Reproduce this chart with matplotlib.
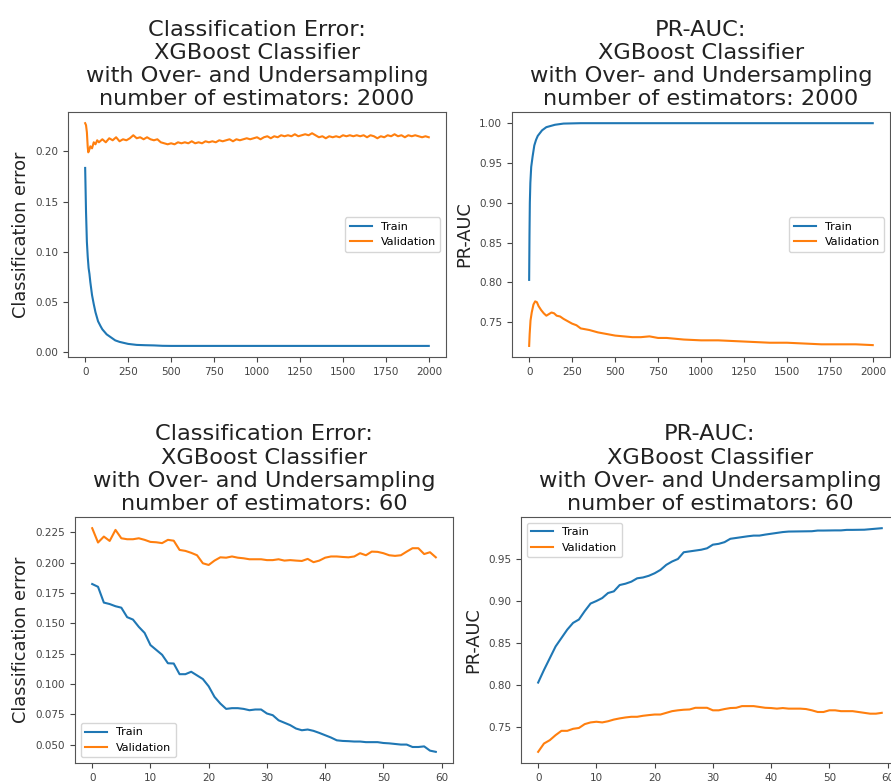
import numpy as np
import matplotlib.pyplot as plt

# --- 2000 estimators: error curves (iteration, value) ---
err2000_train_it = [0, 5, 10, 15, 20, 25, 30, 40, 50, 60, 75, 90, 100, 125, 150, 175,
                    200, 250, 300, 350, 400, 450, 500, 1000, 1500, 1999]
err2000_train = [0.1835, 0.140, 0.110, 0.095, 0.084, 0.078, 0.070, 0.057, 0.048, 0.040,
                 0.031, 0.026, 0.023, 0.018, 0.015, 0.012, 0.0105, 0.0085, 0.0075, 0.0072,
                 0.0070, 0.0066, 0.0065, 0.0065, 0.0065, 0.0065]

err2000_val_it = [0, 5, 10, 15, 18, 25, 30, 40, 50, 60, 70, 80] + list(range(100, 2000, 20)) + [1999]
err2000_val = [0.228, 0.226, 0.219, 0.204, 0.199, 0.202, 0.205, 0.203, 0.209, 0.207, 0.211, 0.209,
               0.212, 0.209, 0.213, 0.211, 0.214, 0.210, 0.212, 0.211, 0.213, 0.216,
               0.213, 0.214, 0.212, 0.214, 0.212, 0.211, 0.212, 0.209, 0.208, 0.207,
               0.208, 0.207, 0.209, 0.208, 0.209, 0.208, 0.210, 0.208, 0.209, 0.208,
               0.210, 0.209, 0.210, 0.209, 0.211, 0.210, 0.211, 0.212, 0.210, 0.212,
               0.211, 0.212, 0.213, 0.212, 0.213, 0.214, 0.212, 0.214, 0.215, 0.213,
               0.215, 0.214, 0.216, 0.215, 0.216, 0.215, 0.217, 0.215, 0.216, 0.217,
               0.216, 0.218, 0.216, 0.214, 0.215, 0.213, 0.215, 0.214, 0.215, 0.214,
               0.216, 0.215, 0.216, 0.215, 0.216, 0.215, 0.216, 0.214, 0.216, 0.215,
               0.213, 0.215, 0.214, 0.216, 0.215, 0.217, 0.215, 0.216, 0.214, 0.216,
               0.215, 0.216, 0.215, 0.214, 0.215, 0.214]

# --- 2000 estimators: PR-AUC curves ---
auc2000_train_it = [0, 2, 4, 7, 12, 20, 30, 40, 50, 75, 100, 150, 200, 300, 1000, 1999]
auc2000_train = [0.803, 0.860, 0.900, 0.925, 0.945, 0.958, 0.972, 0.979, 0.984, 0.991,
                 0.995, 0.998, 0.9995, 1.0, 1.0, 1.0]

auc2000_val_it = [0, 3, 8, 15, 25, 35, 45, 55, 70, 85, 100, 115, 130, 145, 160, 180, 200,
                  225, 250, 275, 300, 325, 350, 400, 450, 500, 550, 600, 650, 700, 750,
                  800, 850, 900, 1000, 1100, 1200, 1300, 1400, 1500, 1600, 1700, 1800,
                  1900, 1999]
auc2000_val = [0.720, 0.735, 0.752, 0.762, 0.772, 0.776, 0.775, 0.770, 0.765, 0.761, 0.758,
               0.760, 0.762, 0.761, 0.758, 0.757, 0.754, 0.751, 0.748, 0.746, 0.742, 0.741,
               0.740, 0.737, 0.735, 0.733, 0.732, 0.731, 0.731, 0.732, 0.730, 0.730, 0.729,
               0.728, 0.727, 0.727, 0.726, 0.725, 0.724, 0.724, 0.723, 0.722, 0.722, 0.722,
               0.721]

# --- 60 estimators ---
err60_train = [0.1823, 0.180, 0.167, 0.1658, 0.164, 0.1628, 0.155, 0.153, 0.147, 0.142,
               0.132, 0.128, 0.124, 0.117, 0.1168, 0.108, 0.108, 0.110, 0.107, 0.104,
               0.098, 0.0893, 0.0838, 0.0794, 0.080, 0.080, 0.0794, 0.0783, 0.0789, 0.0789,
               0.0756, 0.0742, 0.070, 0.068, 0.066, 0.0632, 0.0618, 0.0624, 0.0613, 0.0596,
               0.0577, 0.0558, 0.0535, 0.053, 0.0528, 0.0525, 0.0525, 0.052, 0.052, 0.052,
               0.0513, 0.051, 0.0505, 0.050, 0.050, 0.048, 0.048, 0.0485, 0.045, 0.044]
err60_val = [0.2283, 0.2165, 0.2214, 0.2178, 0.2269, 0.220, 0.2192, 0.2192, 0.220, 0.2187,
             0.217, 0.2167, 0.216, 0.2187, 0.218, 0.2104, 0.2096, 0.208, 0.206, 0.1994,
             0.198, 0.2016, 0.2043, 0.204, 0.205, 0.204, 0.2035, 0.2027, 0.2027, 0.2027,
             0.202, 0.202, 0.2027, 0.2016, 0.202, 0.2016, 0.2013, 0.203, 0.2003, 0.2016,
             0.204, 0.205, 0.205, 0.2046, 0.2043, 0.205, 0.2077, 0.206, 0.209, 0.2088,
             0.2077, 0.206, 0.2055, 0.206, 0.209, 0.2118, 0.2118, 0.207, 0.2085, 0.2043]

auc60_train = [0.803, 0.818, 0.832, 0.846, 0.856, 0.866, 0.874, 0.878, 0.888, 0.897,
               0.900, 0.9035, 0.9095, 0.9115, 0.919, 0.9206, 0.923, 0.927, 0.928, 0.930,
               0.933, 0.937, 0.943, 0.947, 0.950, 0.958, 0.959, 0.960, 0.961, 0.9627,
               0.967, 0.968, 0.970, 0.974, 0.975, 0.976, 0.977, 0.9778, 0.9778, 0.979,
               0.980, 0.981, 0.982, 0.9826, 0.9827, 0.9828, 0.9829, 0.983, 0.9838, 0.9838,
               0.9839, 0.984, 0.984, 0.9846, 0.9846, 0.9847, 0.9848, 0.9854, 0.986, 0.9866]
auc60_val = [0.7206, 0.7305, 0.7345, 0.7405, 0.7456, 0.7456, 0.748, 0.749, 0.7536, 0.7556,
             0.7564, 0.7556, 0.757, 0.759, 0.7604, 0.7615, 0.7623, 0.7623, 0.7635, 0.7643,
             0.765, 0.765, 0.767, 0.769, 0.770, 0.7707, 0.771, 0.773, 0.773, 0.773,
             0.770, 0.770, 0.7715, 0.7727, 0.773, 0.775, 0.775, 0.775, 0.774, 0.773,
             0.7727, 0.772, 0.7727, 0.772, 0.772, 0.772, 0.7715, 0.770, 0.768, 0.768,
             0.770, 0.770, 0.769, 0.769, 0.769, 0.768, 0.767, 0.766, 0.766, 0.767]

title_err = "Classification Error:\nXGBoost Classifier\nwith Over- and Undersampling\nnumber of estimators: {}"
title_auc = "PR-AUC:\nXGBoost Classifier\nwith Over- and Undersampling\nnumber of estimators: {}"

fig = plt.figure(figsize=(8.91, 7.83), dpi=100)
ax1 = fig.add_axes([0.0763, 0.544, 0.4242, 0.3129])
ax2 = fig.add_axes([0.5746, 0.544, 0.4242, 0.3129])
ax3 = fig.add_axes([0.0842, 0.0255, 0.4242, 0.3142])
ax4 = fig.add_axes([0.5847, 0.0255, 0.4242, 0.3142])

def style(ax, title, ylabel, loc):
    ax.set_title(title, fontsize=16.2, color='#222222', linespacing=1.2, pad=5)
    ax.set_ylabel(ylabel, fontsize=12.8, color='#222222')
    ax.tick_params(labelsize=7.5, colors='#444444')
    for s in ax.spines.values():
        s.set_color('#555555')
    ax.legend(loc=loc, fontsize=8)

ax1.plot(err2000_train_it, err2000_train, label='Train')
ax1.plot(err2000_val_it, err2000_val, label='Validation')
style(ax1, title_err.format(2000), 'Classification error', 'center right')

ax2.plot(auc2000_train_it, auc2000_train, label='Train')
ax2.plot(auc2000_val_it, auc2000_val, label='Validation')
style(ax2, title_auc.format(2000), 'PR-AUC', 'center right')

x60 = np.arange(len(err60_train))
ax3.plot(x60, err60_train, label='Train')
ax3.plot(x60, err60_val, label='Validation')
style(ax3, title_err.format(60), 'Classification error', 'lower left')

ax4.plot(x60, auc60_train, label='Train')
ax4.plot(x60, auc60_val, label='Validation')
style(ax4, title_auc.format(60), 'PR-AUC', 'upper left')

for ax in (ax1, ax2):
    ax.set_xticks([0, 250, 500, 750, 1000, 1250, 1500, 1750, 2000])
    ax.set_xlim(-99.95, 2098.95)
for ax in (ax3, ax4):
    ax.set_xticks([0, 10, 20, 30, 40, 50, 60])
    ax.set_xlim(-2.95, 61.95)

fig.savefig('out.png', dpi=100)
